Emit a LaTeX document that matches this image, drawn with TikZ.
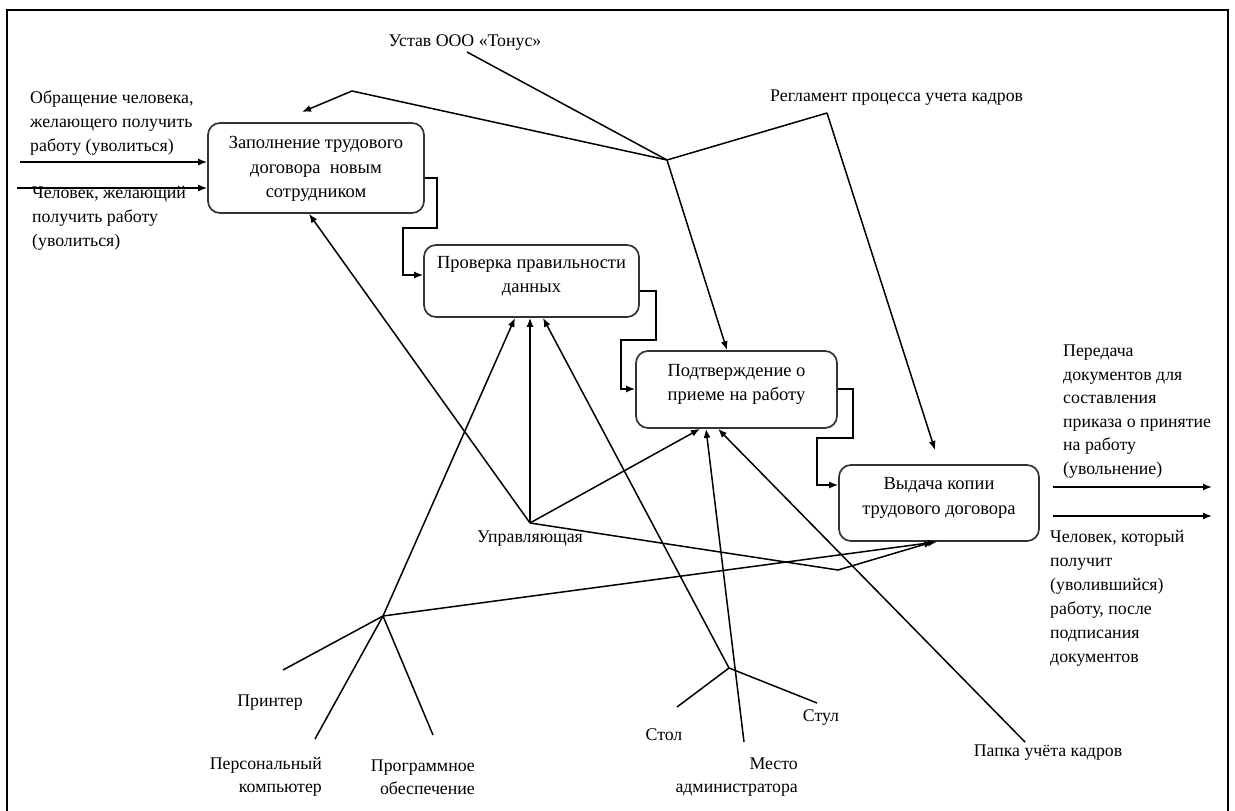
\documentclass[tikz,border=0pt]{standalone}
\usepackage{fontspec}
\setmainfont{Liberation Serif}
\usetikzlibrary{arrows.meta,calc}

\begin{document}
\begin{tikzpicture}[x=1pt,y=-1pt,
  font=\fontsize{17.8}{24}\selectfont,
  proc/.style={draw=black!80, line width=1.7pt, rounded corners=12pt, inner sep=0pt},
  boxtext/.style={align=center, inner sep=0pt, font=\fontsize{18.5}{24.5}\selectfont},
  lab/.style={align=left, inner sep=0pt, anchor=west},
  labr/.style={align=right, inner sep=0pt, anchor=east},
  word/.style={inner sep=0pt},
  wire/.style={line width=1.5pt},
  arr/.style={wire, -{Latex[length=9pt,width=7pt]}},
]
\useasboundingbox (0,0) rectangle (1235,811);

% outer frame
\draw[line width=2.6pt] (7,814) -- (7,10) -- (1228,10) -- (1228,814);

% process boxes
\node[proc, minimum width=216pt, minimum height=90pt] (b1) at (316,168) {};
\node[boxtext] (t1) at (316,169) {Заполнение трудового\\договора\ \ новым\\сотрудником};
\node[proc, minimum width=215pt, minimum height=72pt] (b2) at (531.5,281) {};
\node[boxtext] (t2) at (531.5,276) {Проверка правильности\\данных};
\node[proc, minimum width=201pt, minimum height=77pt] (b3) at (736.5,389.5) {};
\node[boxtext] (t3) at (736.5,384.5) {Подтверждение о\\приеме на работу};
\node[proc, minimum width=200pt, minimum height=76pt] (b4) at (939,503) {};
\node[boxtext] (t4) at (939,498) {Выдача копии\\трудового договора};

% labels
\node[word] (ust) at (465,43) {Устав ООО «Тонус»};
\node[lab] (rgl) at (770,98) {Регламент процесса учета кадров};
\node[lab] (inA) at (30,123) {Обращение человека,\\желающего получить\\работу (уволиться)};
\node[lab] (inB) at (32,218) {Человек, желающий\\получить работу\\(уволиться)};
\node[lab, font=\fontsize{17.8}{23.6}\selectfont] (outA) at (1063,411.5) {Передача\\документов для\\составления\\приказа о принятие\\на работу\\(увольнение)};
\node[lab] (outB) at (1050,598.5) {Человек, который\\получит\\(уволившийся)\\работу, после\\подписания\\документов};
\node[word] (upr) at (530,539) {Управляющая};
\node[word] (prn) at (270,703) {Принтер};
\node[labr, font=\fontsize{17.8}{23}\selectfont] (pc) at (322,777) {Персональный\\компьютер};
\node[labr, font=\fontsize{17.8}{23}\selectfont] (sw) at (475,777) {Программное\\обеспечение};
\node[word] (stol) at (664,735) {Стол};
\node[word] (stul) at (821,718) {Стул};
\node[labr, font=\fontsize{17.8}{23}\selectfont] (mesto) at (798,777) {Место\\администратора};
\node[word] (papka) at (1048,753) {Папка учёта кадров};

% junctions and free ends
\coordinate (j1) at (667,160);
\coordinate (ustE) at (467,52);
\coordinate (k1) at (352,91);
\coordinate (k1t) at (302,112);
\coordinate (rg) at (827,113);
\coordinate (rgt) at (935,450);
\coordinate (j2) at (530,523);
\coordinate (bend) at (838,570);
\coordinate (j4) at (383,616);
\coordinate (prnE) at (283,670);
\coordinate (pcE) at (315,739);
\coordinate (swE) at (433,735);
\coordinate (j3) at (729,668);
\coordinate (stolE) at (677,707);
\coordinate (stulE) at (817,703);
\coordinate (mestoE) at (744,742);
\coordinate (papkaE) at (1025,742);
\coordinate (in1) at (20,162);
\coordinate (in2) at (17,188);
\coordinate (o1) at (1212,487);
\coordinate (o2) at (1212,516);

% inputs and outputs
\draw[arr] (in1) -- (b1.west |- in1);
\draw[arr] (in2) -- (b1.west |- in2);
\draw[arr] ([xshift=13pt]b4.east |- o1) -- (o1);
\draw[arr] ([xshift=13pt]b4.east |- o2) -- (o2);

% sequence between the boxes
\draw[arr] (b1.east |- 0,178) -- (437,178) -- (437,228) -- (403,228) -- (403,275) -- (b2.west |- 0,275);
\draw[arr] (b2.east |- 0,291) -- (656,291) -- (656,340) -- (621,340) -- (621,389) -- (b3.west |- 0,389);
\draw[arr] (b3.east |- 0,389) -- (853,389) -- (853,438) -- (817,438) -- (817,485) -- (b4.west |- 0,485);

% controls
\draw[wire] (ustE) -- (j1);
\draw[wire] (rg) -- (j1);
\draw[arr] (j1) -- (k1) -- (k1t);
\draw[arr] (j1) -- (b3.north -| 727,0);
\draw[arr] (rg) -- (rgt);

% mechanisms
\draw[arr] (j2) -- (b1.south -| 309,0);
\draw[arr] (j2) -- (b2.south -| j2);
\draw[arr] (j2) -- (b3.south -| 700,0);
\draw[arr] (j2) -- (bend) -- (b4.south -| 933,0);

\draw[wire] (prnE) -- (j4);
\draw[wire] (pcE) -- (j4);
\draw[wire] (swE) -- (j4);
\draw[arr] (j4) -- (b2.south -| 515,0);
\draw[arr] (j4) -- (b4.south -| 937,0);

\draw[wire] (stolE) -- (j3);
\draw[wire] (stulE) -- (j3);
\draw[arr] (j3) -- (b2.south -| 543,0);
\draw[arr] (mestoE) -- (b3.south -| 706,0);
\draw[arr] (papkaE) -- (b3.south -| 718,0);
\end{tikzpicture}
\end{document}
